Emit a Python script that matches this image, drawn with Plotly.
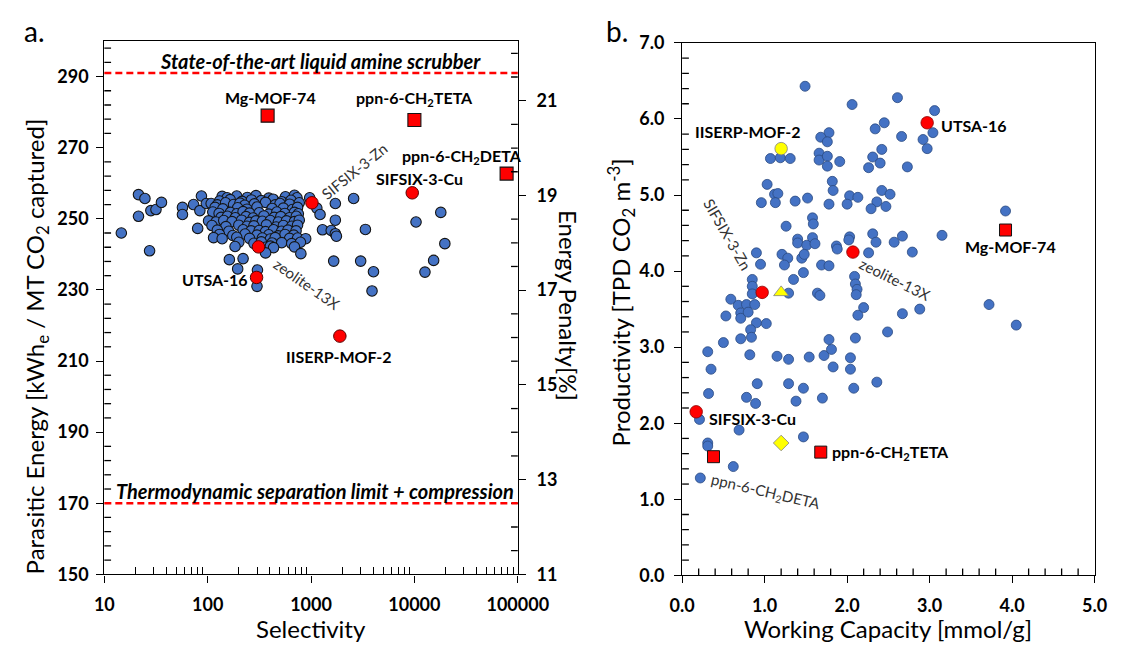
import plotly.graph_objects as go

# ---------------- Panel a: Selectivity vs Parasitic energy ----------------
sel_blue = [
    14.6, 21.4, 24.7, 21.4, 27.4, 28.2, 31.6, 35.7, 57, 57, 73, 87, 84, 97, 80,
    138, 154, 191, 242, 293, 390, 565, 691, 731,
    130, 165, 215, 265, 330, 430, 520, 640,
    108, 124, 149, 178, 205, 228, 283, 363, 450, 501, 621, 769,
    118, 140, 195, 240, 300, 420, 540, 660, 740,
    112, 129, 166, 191, 220, 254, 315, 390, 467, 557, 691, 753,
    135, 155, 185, 235, 275, 350, 440, 510, 620, 720,
    102, 120, 143, 172, 213, 254, 293, 338, 404, 483, 578, 691, 769,
    110, 150, 200, 240, 280, 370, 460, 540, 650, 740,
    124, 160, 220, 263, 315, 363, 434, 519, 598, 716,
    130, 175, 230, 300, 390, 480, 560, 680,
    114, 138, 191, 254, 338, 404, 450, 621, 742, 887,
    200, 280, 330, 420, 520, 650, 790,
    184, 363, 404, 434, 691,
    363, 797,
    162, 220, 195, 303, 300,
    970, 1137, 1222, 1291, 1567, 1718, 1760, 1718, 1718, 2583, 3357, 1656, 3020,
    4018, 3890, 10370, 18000, 19700, 15350, 12650,
]
pe_blue = [
    246.0, 256.8, 255.7, 250.7, 241.0, 252.3, 252.6, 254.6, 253.2, 251.2, 254.0, 256.4, 252.3, 254.3, 247.3,
    256.3, 255.9, 256.4, 256.0, 256.5, 255.8, 256.2, 256.6, 255.9,
    255.0, 255.4, 254.9, 255.3, 255.1, 255.5, 254.8, 255.2,
    254.3, 253.9, 254.5, 254.0, 254.4, 253.8, 254.2, 254.6, 253.9, 254.3, 254.1, 254.5,
    253.2, 252.8, 253.1, 252.7, 253.3, 252.9, 253.0, 252.6, 253.2,
    251.9, 251.5, 251.8, 251.4, 252.0, 251.6, 251.7, 251.3, 251.9, 251.5, 251.8, 251.4,
    250.4, 250.7, 250.3, 250.6, 250.2, 250.8, 250.4, 250.6, 250.3, 250.7,
    249.4, 249.1, 249.5, 249.2, 249.6, 249.0, 249.4, 249.3, 249.5, 249.1, 249.4, 249.2, 249.6,
    248.1, 247.8, 248.2, 247.9, 248.0, 248.3, 247.7, 248.1, 247.9, 248.2,
    246.8, 246.5, 246.9, 246.6, 246.7, 246.4, 246.9, 246.5, 246.8, 246.6,
    245.6, 245.3, 245.7, 245.4, 245.5, 245.2, 245.6, 245.4,
    244.7, 244.4, 244.8, 244.5, 244.6, 244.3, 244.7, 244.5, 244.6, 244.4,
    243.4, 243.1, 243.5, 243.2, 243.3, 243.0, 243.4,
    242.2, 242.0, 242.3, 241.9, 242.1,
    240.4, 240.2,
    238.5, 238.8, 235.9, 235.6, 231.0,
    255.9, 253.0, 251.2, 246.9, 246.7, 245.8, 245.1, 254.3, 249.6, 255.7, 247.0, 238.1, 238.1,
    235.1, 229.7, 249.1, 251.8, 243.0, 238.3, 235.0,
]
# red circles: UTSA-16, zeolite-13X, SIFSIX-3-Zn, SIFSIX-3-Cu, IISERP-MOF-2
sel_red_circ = [297, 310, 1020, 9530, 1900]
pe_red_circ = [233.5, 242.1, 254.5, 257.3, 217.0]
# red squares: Mg-MOF-74, ppn-6-CH2TETA, ppn-6-CH2DETA
sel_red_sq = [380, 10000, 78000]
pe_red_sq = [279.0, 277.8, 262.7]
amine_pe = 291
thermo_pe = 170
sel_ticks = [10, 100, 1000, 10000, 100000]
pe_ticks = [150, 170, 190, 210, 230, 250, 270, 290]
ep_ticks = [11, 13, 15, 17, 19, 21]

# ---------------- Panel b: Working capacity vs Productivity ----------------
wc_blue = [
    1.49, 2.06, 2.61, 2.45, 2.34, 1.78, 1.68, 1.76, 1.07, 1.19, 1.31, 1.66, 1.66, 1.76, 1.76,
    1.91, 2.42, 2.31, 2.40, 2.26, 1.82, 1.83, 1.03, 1.12, 1.16, 0.96, 1.13, 1.37, 1.52, 1.78,
    2.03, 2.13, 2.00, 2.42, 2.52, 2.36, 2.29, 2.47, 1.58, 1.59, 1.26, 1.40, 1.40, 1.51, 1.58,
    1.61, 1.87, 1.88, 2.03, 2.02, 2.26, 2.31, 2.35, 2.57, 0.90, 0.95, 1.21, 1.28, 1.24, 1.45,
    1.48, 1.69, 1.78, 1.47, 1.35, 0.85, 0.85, 0.85, 1.29, 1.64, 1.67, 2.09, 2.10, 2.12, 2.11,
    0.59, 2.20, 2.13, 2.49, 0.68, 0.78, 0.88, 0.71, 0.71, 0.80, 0.53, 0.90, 1.02, 0.83, 0.84,
    0.71, 0.50, 0.31, 0.82, 1.15, 1.29, 1.54, 1.72, 1.78, 1.81, 1.83, 2.10, 2.04, 2.04, 2.36,
    2.08, 0.35, 0.32, 0.91, 0.78, 0.89, 1.29, 1.47, 1.38, 1.70, 0.21, 0.69, 1.47, 0.31, 0.31,
    0.62, 0.22, 3.06, 3.04, 2.92, 2.97, 2.66, 2.73, 3.92, 3.15, 2.67, 2.79, 3.72, 4.05, 2.88,
    2.67,
]
prod_blue = [
    6.43, 6.19, 6.28, 5.95, 5.87, 5.82, 5.76, 5.70, 5.48, 5.49, 5.48, 5.55, 5.46, 5.51, 5.38,
    5.44, 5.60, 5.50, 5.42, 5.36, 5.18, 5.06, 5.14, 5.01, 5.02, 4.90, 4.90, 4.92, 4.96, 4.88,
    4.99, 4.97, 4.88, 5.06, 5.01, 4.91, 4.82, 4.85, 4.70, 4.62, 4.59, 4.42, 4.37, 4.34, 4.44,
    4.36, 4.33, 4.29, 4.45, 4.41, 4.24, 4.49, 4.38, 4.38, 4.24, 4.09, 4.22, 4.17, 4.08, 4.17,
    4.22, 4.08, 4.07, 3.98, 3.89, 3.89, 3.80, 3.70, 3.71, 3.71, 3.68, 3.93, 3.83, 3.76, 3.69,
    3.63, 3.52, 3.42, 3.20, 3.55, 3.56, 3.56, 3.45, 3.38, 3.46, 3.41, 3.32, 3.31, 3.23, 3.13,
    3.11, 3.06, 2.94, 2.90, 2.88, 2.84, 2.87, 2.89, 3.10, 2.97, 2.74, 3.12, 2.86, 2.71, 2.54,
    2.46, 2.71, 2.39, 2.52, 2.34, 2.26, 2.52, 2.46, 2.29, 2.33, 2.05, 1.91, 1.82, 1.74, 1.70,
    1.43, 1.28, 6.11, 5.82, 5.73, 5.61, 5.77, 5.37, 4.79, 4.47, 4.46, 4.25, 3.56, 3.29, 3.50,
    3.44,
]
# red circles: UTSA-16, zeolite-13X, SIFSIX-3-Zn, SIFSIX-3-Cu
wc_red_circ = [2.97, 2.07, 0.97, 0.17]
prod_red_circ = [5.95, 4.25, 3.72, 2.15]
# red squares: Mg-MOF-74, ppn-6-CH2TETA, ppn-6-CH2DETA
wc_red_sq = [3.92, 1.68, 0.38]
prod_red_sq = [4.54, 1.62, 1.56]
wc_yel_circ, prod_yel_circ = [1.20], [5.61]
wc_yel_tri, prod_yel_tri = [1.20], [3.72]
wc_yel_dia, prod_yel_dia = [1.20], [1.74]

# ---------------- figure ----------------
W, H = 1141, 652
FONT = "Lato"
BLUE = "#4472C4"
RED = "#FF0000"
YEL = "#FFFF00"

# plot-area pixel geometry
A_L, A_R, A_T, A_B = 95, 525, 30, 582
B_L, B_R, B_T, B_B = 696, 1125, 32, 583


def X(p):
    return p / W


def Y(p):
    return 1 - p / H


fig = go.Figure()

fig.add_trace(go.Scatter(x=sel_blue, y=pe_blue, mode="markers", xaxis="x", yaxis="y",
                         marker=dict(size=10.5, color=BLUE, line=dict(color="#141414", width=1.1))))
fig.add_trace(go.Scatter(x=sel_red_circ, y=pe_red_circ, mode="markers", xaxis="x", yaxis="y",
                         marker=dict(size=12.5, color=RED, line=dict(color="#5a0000", width=1))))
fig.add_trace(go.Scatter(x=sel_red_sq, y=pe_red_sq, mode="markers", xaxis="x", yaxis="y",
                         marker=dict(size=13, symbol="square", color=RED, line=dict(color="#141414", width=1.1))))
fig.add_trace(go.Scatter(x=[], y=[], mode="markers", xaxis="x", yaxis="y2"))

fig.add_trace(go.Scatter(x=wc_blue, y=prod_blue, mode="markers", xaxis="x2", yaxis="y3",
                         marker=dict(size=10, color=BLUE, line=dict(color="#2B4A80", width=0.8))))
fig.add_trace(go.Scatter(x=wc_red_circ, y=prod_red_circ, mode="markers", xaxis="x2", yaxis="y3",
                         marker=dict(size=12.5, color=RED, line=dict(color="#8a0000", width=0.8))))
fig.add_trace(go.Scatter(x=wc_red_sq, y=prod_red_sq, mode="markers", xaxis="x2", yaxis="y3",
                         marker=dict(size=12, symbol="square", color=RED, line=dict(color="#141414", width=1))))
fig.add_trace(go.Scatter(x=wc_yel_circ, y=prod_yel_circ, mode="markers", xaxis="x2", yaxis="y3",
                         marker=dict(size=12.5, color=YEL, line=dict(color="#808080", width=0.8))))
fig.add_trace(go.Scatter(x=wc_yel_tri, y=prod_yel_tri, mode="markers", xaxis="x2", yaxis="y3",
                         marker=dict(size=13, symbol="triangle-up", color=YEL, line=dict(color="#808080", width=0.8))))
fig.add_trace(go.Scatter(x=wc_yel_dia, y=prod_yel_dia, mode="markers", xaxis="x2", yaxis="y3",
                         marker=dict(size=12, symbol="diamond", color=YEL, line=dict(color="#808080", width=0.8))))

tickfont = dict(family=FONT, size=18, color="black", weight="bold")
axcommon = dict(showgrid=False, zeroline=False, showline=True, linecolor="black", linewidth=1.3,
                ticks="outside", ticklen=7, tickwidth=1.3, tickcolor="black", tickfont=tickfont)

# minor tick positions (axis decoration)
minor_sel = [v * m for v in [10, 100, 1000, 10000] for m in range(2, 10)]
minor_pe = [150 + 4 * i for i in range(38) if (4 * i) % 20 != 0]
minor_ep = [11 + 0.5 * i for i in range(23) if i % 4 != 0]
minor_wc = [round(0.2 * i, 2) for i in range(26) if i % 5 != 0]
minor_prod = [round(0.2 * i, 2) for i in range(36) if i % 5 != 0]

fig.update_layout(
    width=W, height=H, margin=dict(l=0, r=0, t=0, b=0),
    paper_bgcolor="white", plot_bgcolor="white", showlegend=False,
    xaxis=dict(axcommon, domain=[X(A_L), X(A_R)], type="log", range=[1, 5], anchor="y",
               tickvals=sel_ticks, ticktext=[str(v) for v in sel_ticks], mirror=True,
               ticklabelstandoff=7,
               minor=dict(ticks="inside", ticklen=7, tickwidth=1.3, tickcolor="black",
                          tickmode="array", tickvals=minor_sel)),
    yaxis=dict(axcommon, domain=[Y(A_B), Y(A_T)], range=[150, 300], anchor="x",
               tickvals=pe_ticks, ticklabelstandoff=4),
    yaxis2=dict(axcommon, overlaying="y", side="right", anchor="x", range=[11, 22.26],
                tickvals=ep_ticks, ticklabelstandoff=7),
    xaxis2=dict(axcommon, domain=[X(B_L), X(B_R)], range=[0, 5], anchor="y3",
                tickvals=[0, 1, 2, 3, 4, 5],
                tickformat=".1f", mirror=True, ticklabelstandoff=7),
    yaxis3=dict(axcommon, domain=[Y(B_B), Y(B_T)], range=[0, 7], anchor="x2",
                tickvals=[0, 1, 2, 3, 4, 5, 6, 7],
                tickformat=".1f", mirror=True, ticklabelstandoff=6),
)

# minor ticks on linear axes (inside), drawn as short segments on the axis scales
TL = 7
tick_line = dict(color="black", width=1.3)
for v in minor_pe:
    fig.add_shape(type="line", xref="x domain", yref="y", x0=0, x1=TL / (A_R - A_L), y0=v, y1=v,
                  line=tick_line, layer="above")
for v in minor_ep:
    fig.add_shape(type="line", xref="x domain", yref="y2", x0=1 - TL / (A_R - A_L), x1=1, y0=v, y1=v,
                  line=tick_line, layer="above")
for v in minor_wc:
    fig.add_shape(type="line", xref="x2", yref="y3 domain", x0=v, x1=v, y0=0, y1=TL / (B_B - B_T),
                  line=tick_line, layer="above")
for v in minor_prod:
    fig.add_shape(type="line", xref="x2 domain", yref="y3", x0=0, x1=TL / (B_R - B_L), y0=v, y1=v,
                  line=tick_line, layer="above")

# reference dashed lines
for val in [amine_pe, thermo_pe]:
    fig.add_shape(type="line", xref="x domain", yref="y", x0=0, x1=1, y0=val, y1=val,
                  line=dict(color=RED, width=2.5, dash="7px,4px"))


def ann(text, xp, yp, size=16, angle=0, xanchor="center", color="black", **kw):
    fig.add_annotation(text=text, x=X(xp), y=Y(yp), xref="paper", yref="paper",
                       showarrow=False, textangle=angle, xanchor=xanchor, yanchor="middle",
                       font=dict(family=FONT, size=size, color=color), **kw)


# panel letters
ann("a.", 22, 20, size=28)
ann("b.", 628, 20, size=28)

# axis titles
ann("Parasitic Energy [kWh<sub>e</sub> / MT CO<sub>2</sub> captured]", 24, 346, size=24, angle=-90)
ann("Selectivity", 310, 638, size=24)
ann("Energy Penalty[%]", 578, 304, size=24, angle=90)
ann("Productivity [TPD CO<sub>2</sub> m<sup>-3</sup>]", 632, 301, size=24, angle=-90)
ann("Working Capacity [mmol/g]", 910, 638, size=24)

# panel a labels
ann("<b><i>State-of-the-art liquid amine scrubber</i></b>", 320, 51, size=20)
ann("<b><i>Thermodynamic separation limit + compression</i></b>", 314, 496, size=20)
ann("<b>Mg-MOF-74</b>", 268, 88)
ann("<b>ppn-6-CH<sub>2</sub>TETA</b>", 418, 90)
ann("<b>ppn-6-CH<sub>2</sub>DETA</b>", 467, 150)
ann("<b>SIFSIX-3-Cu</b>", 423, 172)
ann("SIFSIX-3-Zn", 355, 165, size=15, angle=-39, color="#333333")
ann("zeolite-13X", 306, 281, size=15, angle=35, color="#333333")
ann("<b>UTSA-16</b>", 210, 277)
ann("<b>IISERP-MOF-2</b>", 339, 357)

# panel b labels
ann("<b>IISERP-MOF-2</b>", 765, 124)
ann("<b>UTSA-16</b>", 963, 117, xanchor="left")
ann("<b>Mg-MOF-74</b>", 1037, 243)
ann("zeolite-13X", 917, 276, size=15, angle=26, color="#333333")
ann("SIFSIX-3-Zn", 743, 230, size=15, angle=60, color="#333333")
ann("<b>SIFSIX-3-Cu</b>", 722, 421, xanchor="left")
ann("<b>ppn-6-CH<sub>2</sub>TETA</b>", 850, 456, xanchor="left")
ann("ppn-6-CH<sub>2</sub>DETA", 783, 497, size=15, angle=13, color="#333333")

fig.write_html("out.html")
